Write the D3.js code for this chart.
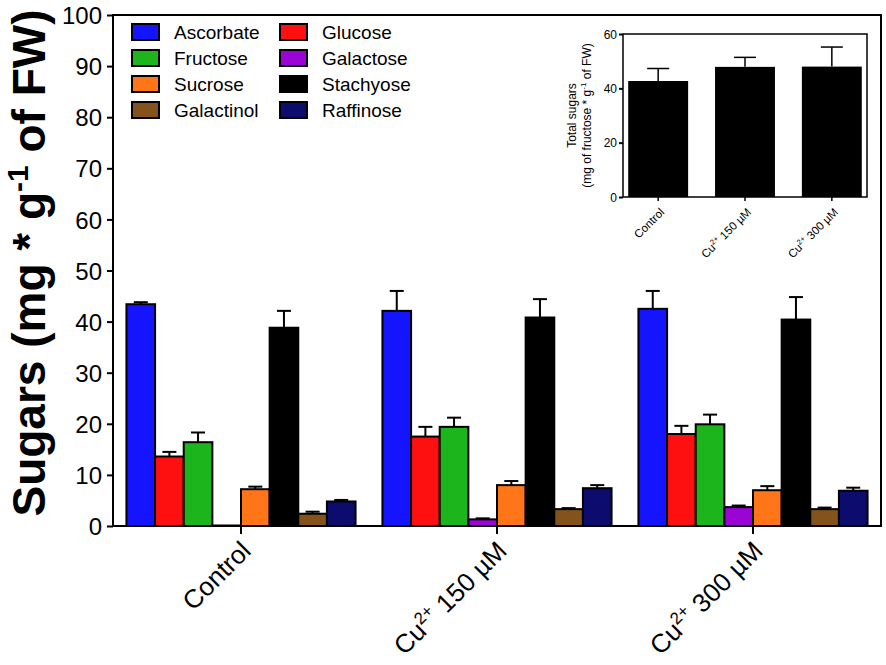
<!DOCTYPE html>
<meta charset="utf-8">
<style>
body { margin: 0; background: #fff; }
svg { font-family: "Liberation Sans", Arial, sans-serif; }
.frame { fill: none; stroke: #000; stroke-width: 2px; }
.axis path, .axis line { stroke: #000; stroke-width: 2px; }
.axis text { fill: #000; }
</style>
<svg width="886" height="665"></svg>
<script src="https://d3js.org/d3.v7.min.js"></script>
<script>

// treatment groups and sugars, in bar order
var groups = ["Control", "Cu2+ 150 µM", "Cu2+ 300 µM"];
var sugars = ["Ascorbate", "Glucose", "Fructose", "Galactose", "Sucrose", "Stachyose", "Galactinol", "Raffinose"];
var colors = ["#1414ff", "#ff1010", "#1cb51c", "#9a05d6", "#ff7518", "#000000", "#84531c", "#0c0c6e"];

// means and error (SEM) per group, same order as sugars
var controlMeans = [43.4, 13.6, 16.4, 0.1, 7.2, 38.8, 2.4, 4.8];
var controlErr   = [0.4, 0.9, 1.9, 0.0, 0.5, 3.3, 0.4, 0.3];
var cu150Means   = [42.1, 17.5, 19.4, 1.3, 8.0, 40.8, 3.3, 7.4];
var cu150Err     = [3.9, 1.9, 1.8, 0.2, 0.8, 3.6, 0.2, 0.6];
var cu300Means   = [42.5, 18.0, 19.9, 3.7, 7.0, 40.4, 3.3, 6.9];
var cu300Err     = [3.5, 1.6, 1.9, 0.3, 0.8, 4.4, 0.3, 0.6];

// inset: total sugars
var totalMeans = [42.7, 47.9, 48.0];
var totalErr   = [4.6, 3.5, 7.2];

var yTicks = [0, 10, 20, 30, 40, 50, 60, 70, 80, 90, 100];
var insetTicks = [0, 20, 40, 60];

var svg = d3.select("svg");

var allMeans = [controlMeans, cu150Means, cu300Means];
var allErr = [controlErr, cu150Err, cu300Err];

var rows = [];
groups.forEach(function(g, gi) {
  sugars.forEach(function(s, si) {
    rows.push({group: g, sugar: s, value: allMeans[gi][si], err: allErr[gi][si], color: colors[si]});
  });
});

// main plot area
var pLeft = 113, pRight = 881, pTop = 15, pBottom = 526;

var x0 = d3.scaleBand()
    .domain(groups)
    .range([pLeft, pRight])
    .paddingInner(0.105)
    .paddingOuter(0.0525);
var x1 = d3.scaleBand()
    .domain(sugars)
    .range([0, x0.bandwidth()]);
var y = d3.scaleLinear()
    .domain([0, 100])
    .range([pBottom, pTop]);

// bars
var bars = svg.append("g");
bars.selectAll("rect")
  .data(rows)
  .enter().append("rect")
    .attr("x", function(d) { return x0(d.group) + x1(d.sugar); })
    .attr("y", function(d) { return y(d.value); })
    .attr("width", x1.bandwidth())
    .attr("height", function(d) { return y(0) - y(d.value); })
    .attr("fill", function(d) { return d.color; })
    .attr("stroke", "#000")
    .attr("stroke-width", 2);

// error bars (upper only)
var errs = svg.append("g")
    .attr("stroke", "#000")
    .attr("stroke-width", 2);
rows.forEach(function(d) {
  if (d.err <= 0) return;
  var cx = x0(d.group) + x1(d.sugar) + x1.bandwidth() / 2;
  errs.append("line")
      .attr("x1", cx).attr("x2", cx)
      .attr("y1", y(d.value)).attr("y2", y(d.value + d.err));
  errs.append("line")
      .attr("x1", cx - 7).attr("x2", cx + 7)
      .attr("y1", y(d.value + d.err)).attr("y2", y(d.value + d.err));
});

// frame
svg.append("rect")
    .attr("class", "frame")
    .attr("x", pLeft).attr("y", pTop)
    .attr("width", pRight - pLeft).attr("height", pBottom - pTop);

// y axis
svg.append("g")
    .attr("class", "axis")
    .attr("transform", "translate(" + pLeft + ",0)")
    .call(d3.axisLeft(y).tickValues(yTicks).tickSize(6).tickPadding(5))
    .call(function(g) { g.select(".domain").remove(); })
    .selectAll("text")
    .attr("font-size", 24)
    .attr("dy", "0.36em");

// x axis ticks
svg.append("g")
    .attr("class", "axis")
    .selectAll("line")
    .data(groups)
    .enter().append("line")
    .attr("x1", function(d) { return x0(d) + x0.bandwidth() / 2; })
    .attr("x2", function(d) { return x0(d) + x0.bandwidth() / 2; })
    .attr("y1", pBottom).attr("y2", pBottom + 8);

function cuLabel(sel, fs) {
  sel.each(function(d) {
    var t = d3.select(this);
    if (d.indexOf("Cu2+") === 0) {
      t.append("tspan").text("Cu");
      t.append("tspan").attr("font-size", fs * 0.65).attr("dy", -fs * 0.4).text("2+");
      t.append("tspan").attr("dy", fs * 0.4).text(d.slice(4));
    } else {
      t.text(d);
    }
  });
}

svg.append("g")
    .selectAll("text")
    .data(groups)
    .enter().append("text")
    .attr("transform", function(d) {
      return "translate(" + (x0(d) + x0.bandwidth() / 2 + 5) + "," + (pBottom + 20) + ") rotate(-45)";
    })
    .attr("text-anchor", "end")
    .attr("font-size", 26)
    .attr("dy", "0.35em")
    .call(cuLabel, 26);

// y title
var yt = svg.append("text")
    .attr("transform", "translate(45,263) rotate(-90)")
    .attr("text-anchor", "middle")
    .attr("font-size", 46)
    .attr("font-weight", "bold");
yt.append("tspan").text("Sugars (mg * g");
yt.append("tspan").attr("font-size", 30).attr("dy", -17).text("-1");
yt.append("tspan").attr("dy", 17).text(" of FW)");

// legend (two columns, read row-wise)
var legend = svg.append("g");
sugars.forEach(function(s, i) {
  var col = i % 2, row = Math.floor(i / 2);
  var lx = col === 0 ? 132 : 280;
  var ly = 24 + row * 26;
  legend.append("rect")
      .attr("x", lx).attr("y", ly)
      .attr("width", 27).attr("height", 16)
      .attr("fill", colors[i])
      .attr("stroke", "#000")
      .attr("stroke-width", 2);
  legend.append("text")
      .attr("x", lx + 42)
      .attr("y", ly + 15)
      .attr("font-size", 19)
      .text(s);
});

// ---- inset ----
var iLeft = 623, iRight = 867, iTop = 34, iBottom = 197;
var ix = d3.scaleBand()
    .domain(groups)
    .range([iLeft, iRight])
    .paddingInner(0.31)
    .paddingOuter(0.06);
var iy = d3.scaleLinear()
    .domain([0, 60])
    .range([iBottom, iTop]);

var inset = svg.append("g");
inset.selectAll("rect.bar")
  .data(groups)
  .enter().append("rect")
    .attr("x", function(d) { return ix(d); })
    .attr("y", function(d, i) { return iy(totalMeans[i]); })
    .attr("width", ix.bandwidth())
    .attr("height", function(d, i) { return iy(0) - iy(totalMeans[i]); })
    .attr("fill", "#000");

groups.forEach(function(g, i) {
  var cx = ix(g) + ix.bandwidth() / 2;
  var e = totalMeans[i] + totalErr[i];
  inset.append("line")
      .attr("x1", cx).attr("x2", cx)
      .attr("y1", iy(totalMeans[i])).attr("y2", iy(e))
      .attr("stroke", "#000").attr("stroke-width", 1.5);
  inset.append("line")
      .attr("x1", cx - 11).attr("x2", cx + 11)
      .attr("y1", iy(e)).attr("y2", iy(e))
      .attr("stroke", "#000").attr("stroke-width", 1.5);
  inset.append("line")
      .attr("x1", cx).attr("x2", cx)
      .attr("y1", iBottom).attr("y2", iBottom + 4)
      .attr("stroke", "#000").attr("stroke-width", 1.5);
});

inset.append("rect")
    .attr("x", iLeft).attr("y", iTop)
    .attr("width", iRight - iLeft).attr("height", iBottom - iTop)
    .attr("fill", "none")
    .attr("stroke", "#000")
    .attr("stroke-width", 1.5);

inset.append("g")
    .attr("class", "axis")
    .attr("transform", "translate(" + iLeft + ",0)")
    .call(d3.axisLeft(iy).tickValues(insetTicks).tickSize(4).tickPadding(2))
    .call(function(g) { g.select(".domain").remove(); g.selectAll("line").attr("stroke-width", 1.5); })
    .selectAll("text")
    .attr("font-size", 12)
    .attr("dy", "0.36em");

inset.append("g")
    .selectAll("text")
    .data(groups)
    .enter().append("text")
    .attr("transform", function(d) {
      return "translate(" + (ix(d) + ix.bandwidth() / 2 + 4) + "," + (iBottom + 13) + ") rotate(-45)";
    })
    .attr("text-anchor", "end")
    .attr("font-size", 11.5)
    .attr("dy", "0.35em")
    .call(cuLabel, 11.5);

var it = inset.append("text")
    .attr("transform", "translate(576," + ((iTop + iBottom) / 2) + ") rotate(-90)")
    .attr("text-anchor", "middle")
    .attr("font-size", 12);
it.append("tspan").attr("x", 0).text("Total sugars");
var it2 = it.append("tspan").attr("x", 0).attr("dy", 15);
it2.text("(mg of fructose * g");
it.append("tspan").attr("font-size", 8).attr("dy", -5).text("-1");
it.append("tspan").attr("dy", 5).text(" of FW)");

</script>
